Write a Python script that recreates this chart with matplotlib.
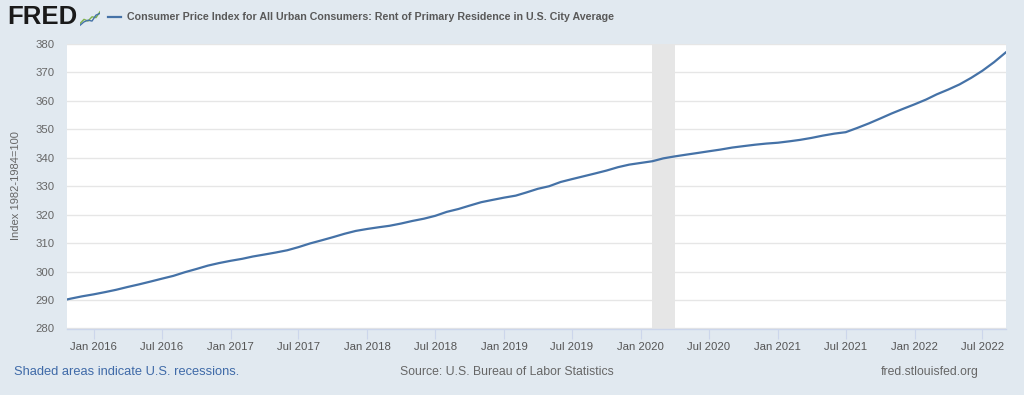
import matplotlib
matplotlib.use("Agg")
import matplotlib.pyplot as plt
import matplotlib.dates as mdates
import numpy as np
import pandas as pd

plt.rcParams['font.family'] = ['Liberation Sans', 'DejaVu Sans']

# ---- data ----
start_month = "2015-10-01"
cpi_rent = [
    289.6, 290.5, 291.3,                                                    # 2015 Oct-Dec
    292.0, 292.8, 293.6, 294.6, 295.5, 296.5, 297.5, 298.5, 299.8, 300.9, 302.1, 303.0,  # 2016
    303.8, 304.5, 305.3, 306.0, 306.7, 307.5, 308.6, 309.9, 311.0, 312.1, 313.3, 314.3,  # 2017
    315.0, 315.6, 316.1, 316.9, 317.8, 318.6, 319.6, 321.0, 322.0, 323.2, 324.4, 325.2,  # 2018
    326.0, 326.7, 327.8, 329.1, 330.0, 331.5, 332.5, 333.5, 334.5, 335.5, 336.7, 337.6,  # 2019
    338.2, 338.8, 339.8, 340.5, 341.1, 341.7, 342.3, 342.9, 343.6, 344.1, 344.6, 345.0,  # 2020
    345.3, 345.8, 346.3, 347.0, 347.8, 348.5, 349.0, 350.5, 352.1, 353.8, 355.6, 357.2,  # 2021
    358.8, 360.5, 362.3, 364.0, 365.8, 368.1, 370.6, 373.6, 377.0,                       # 2022 Jan-Sep
]
dates = pd.date_range(start_month, periods=len(cpi_rent), freq="MS")

recession_start = "2020-02-01"
recession_end = "2020-04-01"

x_range = ("2015-10-22", "2022-09-02")
y_ticks = list(range(280, 381, 10))
x_tick_dates = pd.date_range("2016-01-01", "2022-07-01", freq="6MS")
x_tick_labels = [d.strftime("%b %Y") for d in x_tick_dates]

title = "Consumer Price Index for All Urban Consumers: Rent of Primary Residence in U.S. City Average"
y_label = "Index 1982-1984=100"

# ---- style ----
BG = "#e1e9f0"
LINE = "#4572a7"
GRID = "#e6e6e6"
AXIS = "#ccd6eb"
TXT = "#666666"

W, H = 1024, 395
fig = plt.figure(figsize=(W / 100, H / 100), dpi=100, facecolor=BG)

L, R, T, B = 67, 1006, 44, 328.5
ax = fig.add_axes([L / W, 1 - B / H, (R - L) / W, (B - T) / H])
ax.set_facecolor("white")

ax.axvspan(pd.Timestamp(recession_start), pd.Timestamp(recession_end), color="#e6e6e6", lw=0, zorder=1)
ax.plot(dates, cpi_rent, color=LINE, lw=1.6, zorder=3, solid_joinstyle="round")

ax.set_xlim(pd.Timestamp(x_range[0]), pd.Timestamp(x_range[1]))
ax.set_ylim(280, 380)
ax.set_yticks(y_ticks)
ax.set_xticks(x_tick_dates)
ax.set_xticklabels(x_tick_labels)

ax.grid(axis="y", color=GRID, lw=1, zorder=0)
ax.set_axisbelow(True)
for s in ["left", "right", "top"]:
    ax.spines[s].set_visible(False)
ax.spines["bottom"].set_color(AXIS)
ax.spines["bottom"].set_linewidth(1)

ax.tick_params(axis="y", length=0, pad=9, labelsize=8.2, labelcolor=TXT)
ax.tick_params(axis="x", length=7, width=0.8, color=AXIS, pad=3, labelsize=8.2, labelcolor="#555555")

fig.text(16 / W, 1 - 186 / H, y_label, rotation=90, ha="center", va="center", fontsize=8, color=TXT)

# title with legend line
fig.lines.append(plt.Line2D([108 / W, 121 / W], [1 - 17 / H, 1 - 17 / H], transform=fig.transFigure, color=LINE, lw=1.6))
fig.text(127 / W, 1 - 17 / H, title, ha="left", va="center", fontsize=7.7, color="#595959", fontweight="bold")

# FRED logo
fig.text(7 / W, 1 - 17.5 / H, "FRED", ha="left", va="center", fontsize=18.5, fontweight="bold", color="#1a1a1a")
iax = fig.add_axes([80 / W, 1 - 27 / H, 20 / W, 17 / H])
iax.set_facecolor("#e8edf2")
icon_x = [0, 1, 2, 3, 4, 5]
icon_a = [0.2, 0.45, 0.35, 0.6, 0.55, 0.9]
icon_b = [0.1, 0.3, 0.4, 0.35, 0.7, 0.8]
iax.plot(icon_x, icon_a, color="#7fb24c", lw=1)
iax.plot(icon_x, icon_b, color="#4572a7", lw=1)
iax.set_xlim(0, 5)
iax.set_ylim(0, 1)
iax.axis("off")

# footer
fig.text(14 / W, 1 - 372 / H, "Shaded areas indicate U.S. recessions.", ha="left", va="center", fontsize=9.3, color="#3f6aa8")
fig.text(506.5 / W, 1 - 372 / H, "Source: U.S. Bureau of Labor Statistics", ha="center", va="center", fontsize=8.8, color=TXT)
fig.text(979 / W, 1 - 372 / H, "fred.stlouisfed.org", ha="right", va="center", fontsize=8.8, color=TXT)

fig.savefig("out.png", dpi=100, facecolor=BG)
